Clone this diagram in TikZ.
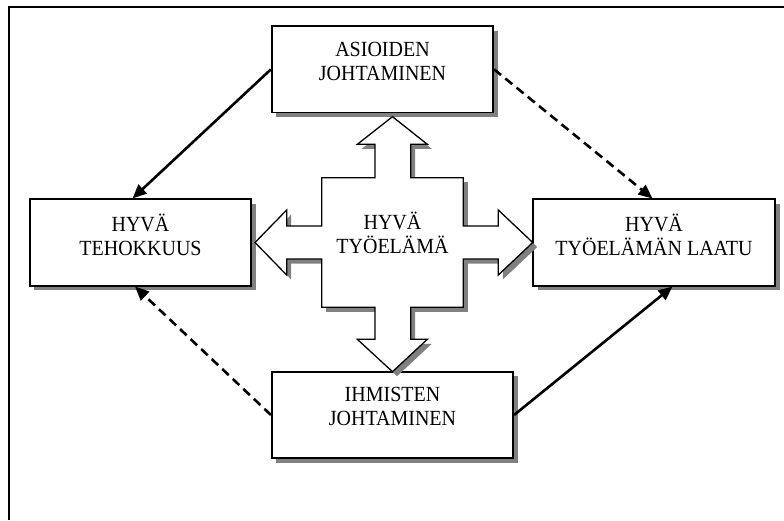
\documentclass[tikz,border=0pt]{standalone}
\usepackage{fontspec}
\setmainfont{Liberation Serif}
\usetikzlibrary{arrows.meta,shadows}
\definecolor{shadowgray}{RGB}{128,128,128}
\begin{document}
\begin{tikzpicture}[x=1pt,y=-1pt,
  box/.style={draw, line width=1.6pt, fill=white, rectangle, inner sep=0pt,
    copy shadow={shadow xshift=4.5pt, shadow yshift=-4.5pt, fill=shadowgray, draw=none}},
  lbl/.style={align=center, inner sep=0pt, yscale=1.08, transform shape,
    font=\fontsize{20}{22.5}\selectfont},
  link/.style={line width=2.6pt, -{Triangle[length=14pt,width=12pt]}},
  dashlink/.style={link, dash pattern=on 9pt off 5.5pt}]
\useasboundingbox (0,0) rectangle (784,520);
% outer frame (only the top and left edges fall inside the page)
\draw[line width=1.5pt] (9,520) -- (9,7) -- (784,7);

% the four boxes
\node[box, minimum width=221.5pt, minimum height=86.5pt] (top)    at (382.5,69.3) {};
\node[box, minimum width=221.5pt, minimum height=86.5pt] (left)   at (140.5,242.5) {};
\node[box, minimum width=242pt,   minimum height=86.5pt] (right)  at (654,242.5) {};
\node[box, minimum width=241.5pt, minimum height=86.5pt] (bottom) at (392.5,415) {};

\node[lbl] (topLabel)    at (382.5,61.3) {ASIOIDEN\\JOHTAMINEN};
\node[lbl] (leftLabel)   at (140.5,235)  {HYVÄ\\TEHOKKUUS};
\node[lbl] (rightLabel)  at (654,234.5)  {HYVÄ\\TYÖELÄMÄN LAATU};
\node[lbl] (bottomLabel) at (392.5,406.5){IHMISTEN\\JOHTAMINEN};

% four-way block arrow in the middle
\def\crosspath{(392.5,116.7) -- (427.3,144.3) -- (410.7,144.3) -- (410.7,177.7)
  -- (463.3,177.7) -- (463.3,226) -- (498.3,226) -- (498.3,210) -- (532.7,242.5)
  -- (498.3,275) -- (498.3,259) -- (463.3,259) -- (463.3,307.3) -- (410.7,307.3)
  -- (410.7,339.3) -- (427.3,339.3) -- (392.5,371.7) -- (357.3,339.3) -- (375,339.3)
  -- (375,307.3) -- (321.7,307.3) -- (321.7,259) -- (286.7,259) -- (286.7,275)
  -- (255,242.5) -- (286.7,210) -- (286.7,226) -- (321.7,226) -- (321.7,177.7)
  -- (375,177.7) -- (375,144.3) -- (357.3,144.3) -- cycle}
\fill[shadowgray, xshift=4.5pt, yshift=-4.5pt] \crosspath;
\draw[line width=1.3pt, fill=white, line join=miter] \crosspath;
\node[lbl] (centerLabel) at (392.5,233) {HYVÄ\\TYÖELÄMÄ};

% connectors
\draw[link]     (top.west)    -- ([xshift=-8pt]left.north);
\draw[dashlink] (top.east)    -- ([xshift=-1.5pt]right.north);
\draw[dashlink] (bottom.west) -- ([xshift=-5.5pt]left.south);
\draw[link]     (bottom.east) -- ([xshift=18.5pt]right.south);
\end{tikzpicture}
\end{document}
